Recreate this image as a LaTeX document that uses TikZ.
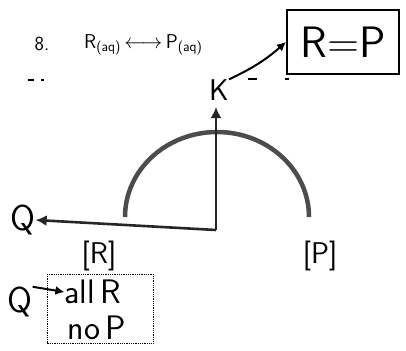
\documentclass[tikz,border=0pt]{standalone}
\usepackage{fontspec}
\usetikzlibrary{arrows.meta}
\begin{document}
\begin{tikzpicture}[x=1pt,y=-1pt, font=\sffamily,
  every node/.style={inner sep=0pt},
  axisline/.style={line width=2.6pt, black!85, -{Latex[length=11pt,width=11pt]}},
  arcline/.style={line width=4.5pt, black!70},
  hand/.style={line width=2pt, -{Latex[length=9pt,width=9pt]}},
  dashbit/.style={line width=1.5pt},
  eqfont/.style={font=\sffamily\fontsize{20}{22}\selectfont},
  bigfont/.style={font=\sffamily\fontsize{30}{32}\selectfont},
  handfont/.style={font=\sffamily\fontsize{34}{36}\selectfont}]
\useasboundingbox (0,0) rectangle (406,350);
% title
\node[eqfont] (num) at (42,44) {8.};
\node[eqfont, anchor=west] (eq) at (84,45) {R\textsubscript{(aq)}\,$\longleftrightarrow$\,P\textsubscript{(aq)}};
% dashed fragments
\draw[dashbit] (28,80) -- (34,80);
\draw[dashbit] (41,80) -- (44,80);
\draw[dashbit] (248,79) -- (257,79);
\draw[dashbit] (285,79) -- (289,79);
% R = P box
\node[draw, line width=2pt, minimum width=112, minimum height=64, font=\sffamily\fontsize{44}{46}\selectfont] (RP) at (343,42) {R=P};
\node[bigfont] (K) at (219,90) {K};
\draw[hand] (K.north east) to[bend right=8] (RP.west);
% arc
\draw[arcline] (125,217) arc[start angle=180, end angle=360, x radius=92, y radius=85];
% axes
\coordinate (O) at (216,230);
\coordinate (Ktip) at (216,107);
\node[font=\sffamily\fontsize{36}{38}\selectfont] (Q) at (23,220) {Q};
\draw[axisline] (O) -- (Ktip);
\draw[axisline] (O) -- (Q.east);
% labels
\node[bigfont] (R) at (99,256) {[R]};
\node[bigfont] (P) at (320,256) {[P]};
% bottom note
\node[font=\sffamily\fontsize{36}{38}\selectfont] (Q2) at (20,302) {Q};
\node[handfont] (allR) at (93,292) {all\,R};
\node[handfont] (noP) at (97,328) {no\,P};
\draw[hand] (Q2.north east) -- (allR.west);
\draw[densely dotted, line width=0.8pt] (47,274) rectangle (153,343);
\end{tikzpicture}
\end{document}
